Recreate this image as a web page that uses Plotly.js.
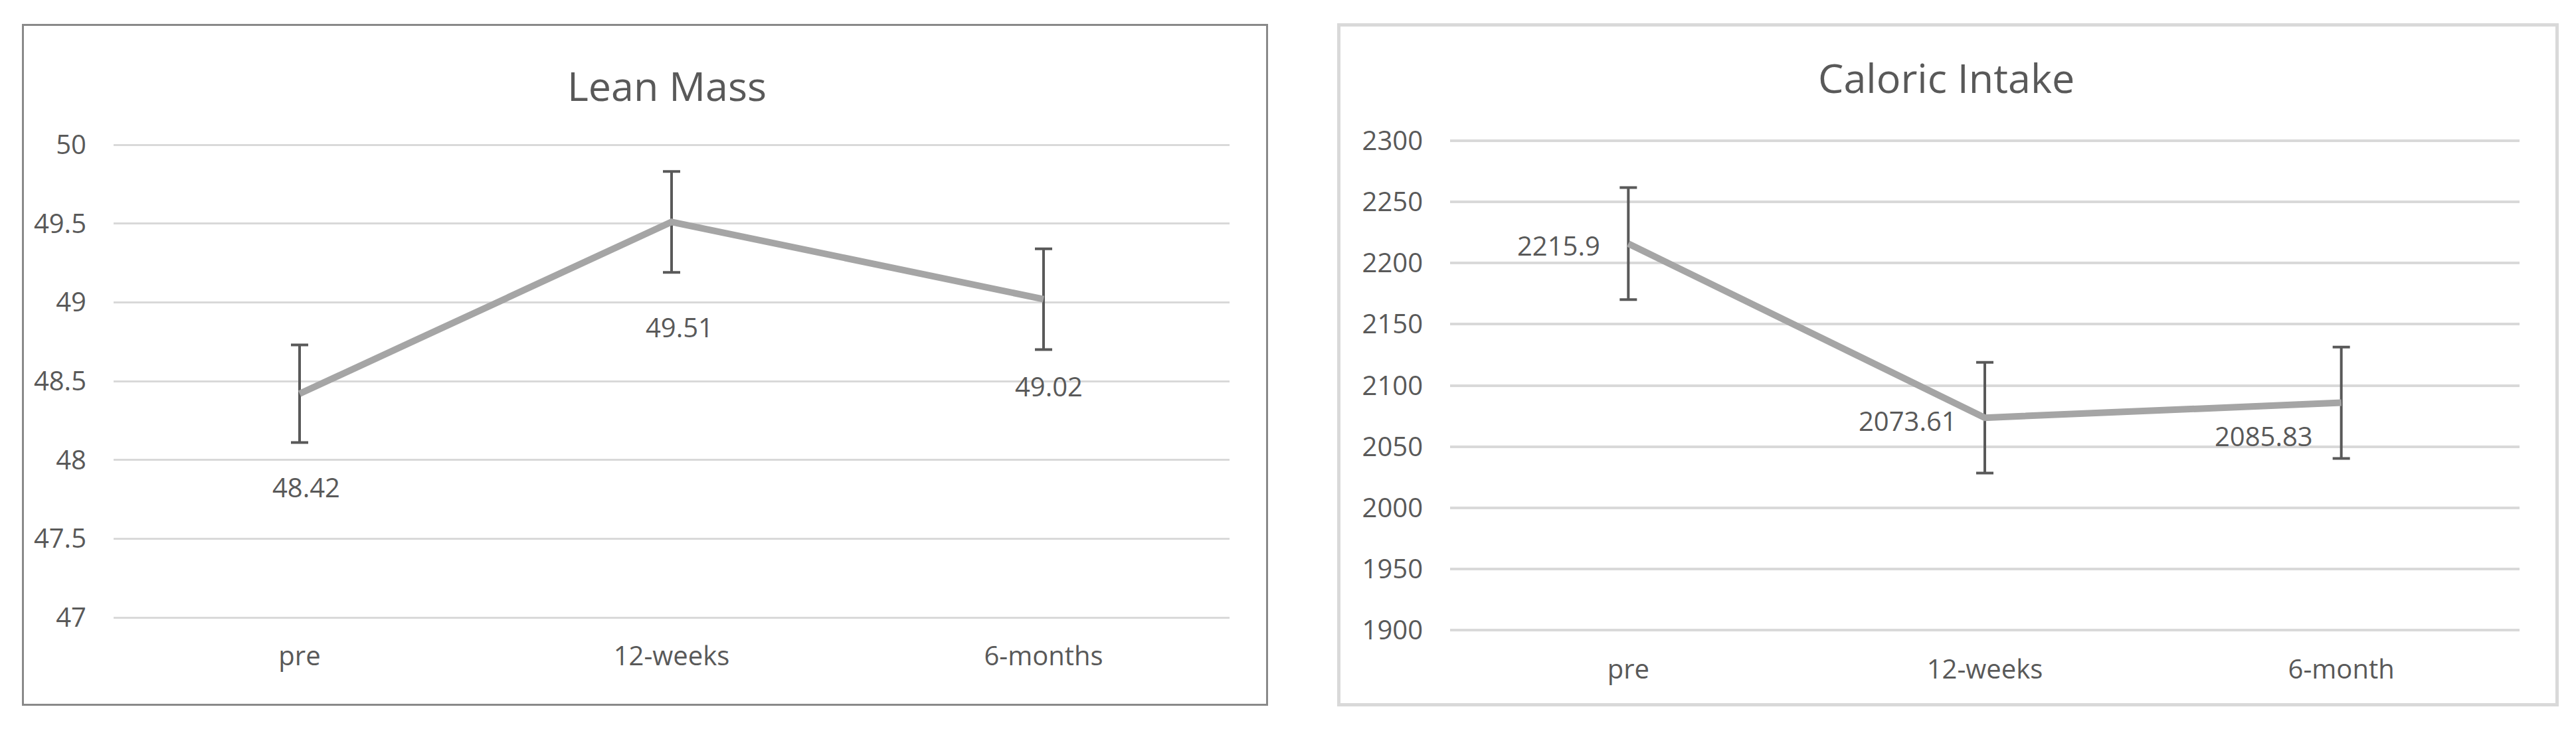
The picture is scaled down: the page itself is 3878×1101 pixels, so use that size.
<!DOCTYPE html>
<html>
<head>
<meta charset="utf-8">
<script src="https://cdn.plot.ly/plotly-3.0.1.min.js"></script>
<style>
  html, body { margin: 0; padding: 0; background: #fff; }
  #chart { width: 3878px; height: 1101px; }
</style>
</head>
<body>
<div id="chart"></div>
<script>
// Lean mass chart data
var leanCategories = ["pre", "12-weeks", "6-months"];
var leanMass = [48.42, 49.51, 49.02];
var leanError = [0.31, 0.32, 0.32];

// Caloric intake chart data
var calCategories = ["pre", "12-weeks", "6-month"];
var caloricIntake = [2215.9, 2073.61, 2085.83];
var caloricError = [45.8, 45.3, 45.5];

var W = 3878, H = 1101;
var textColor = "#595959";
var fontFamily = "'Open Sans', sans-serif";

// helpers to turn pixel positions into paper fractions
function px(x) { return x / W; }
function py(y) { return (H - y) / H; }

var leanTrace = {
  x: leanCategories,
  y: leanMass,
  type: "scatter",
  mode: "lines",
  line: { color: "#a5a5a5", width: 10 },
  error_y: { type: "data", array: leanError, visible: true, color: "#595959", thickness: 4, width: 13 },
  xaxis: "x",
  yaxis: "y",
  hoverinfo: "skip"
};

var calTrace = {
  x: calCategories,
  y: caloricIntake,
  type: "scatter",
  mode: "lines",
  line: { color: "#a5a5a5", width: 10 },
  error_y: { type: "data", array: caloricError, visible: true, color: "#595959", thickness: 4, width: 13 },
  xaxis: "x2",
  yaxis: "y2",
  hoverinfo: "skip"
};

var tickFont = { family: fontFamily, size: 40, color: textColor };
var titleFont = { family: fontFamily, size: 61, color: textColor };

// data label offsets (pixels)
var leanLabelShift = [[10, -141], [12, -158], [8, -131]];
var calLabelShift = [[-40, -3], [-40, -4], [-41, -50]];

var annotations = [];
leanMass.forEach(function(v, i) {
  annotations.push({
    x: leanCategories[i], y: v, xref: "x", yref: "y",
    text: String(v), showarrow: false,
    xanchor: "center", yanchor: "middle",
    xshift: leanLabelShift[i][0], yshift: leanLabelShift[i][1],
    font: tickFont
  });
});
caloricIntake.forEach(function(v, i) {
  annotations.push({
    x: calCategories[i], y: v, xref: "x2", yref: "y2",
    text: String(v), showarrow: false,
    xanchor: "right", yanchor: "middle",
    xshift: calLabelShift[i][0], yshift: calLabelShift[i][1],
    font: tickFont
  });
});

// chart titles
annotations.push({
  text: "Lean Mass", xref: "paper", yref: "paper",
  x: px(1004), y: py(129), xanchor: "center", yanchor: "middle",
  showarrow: false, font: titleFont
});
annotations.push({
  text: "Caloric Intake", xref: "paper", yref: "paper",
  x: px(2930), y: py(116), xanchor: "center", yanchor: "middle",
  showarrow: false, font: titleFont
});

// ranges are padded a little so the end grid lines are drawn;
// domains are padded by the same number of pixels
var leanPad = 0.02, leanPxPerUnit = (930 - 218) / 3;
var calPad = 3, calPxPerUnit = (949 - 212) / 400;

var layout = {
  width: W,
  height: H,
  margin: { l: 0, r: 0, t: 0, b: 0 },
  paper_bgcolor: "#fff",
  plot_bgcolor: "rgba(0,0,0,0)",
  showlegend: false,
  xaxis: {
    domain: [px(171), px(1851)],
    type: "category",
    range: [-0.5, 2.5],
    showgrid: false, zeroline: false, showline: false,
    ticks: "", ticklabelstandoff: 26,
    tickfont: tickFont,
    anchor: "y"
  },
  yaxis: {
    domain: [py(930 + leanPad * leanPxPerUnit), py(218 - leanPad * leanPxPerUnit)],
    range: [47 - leanPad, 50 + leanPad],
    tick0: 47,
    dtick: 0.5,
    showgrid: true, gridcolor: "#d9d9d9", gridwidth: 3,
    zeroline: false, showline: false,
    ticks: "", ticklabelstandoff: 40,
    tickfont: tickFont,
    anchor: "x"
  },
  xaxis2: {
    domain: [px(2183), px(3793)],
    type: "category",
    range: [-0.5, 2.5],
    showgrid: false, zeroline: false, showline: false,
    ticks: "", ticklabelstandoff: 26,
    tickfont: tickFont,
    anchor: "y2"
  },
  yaxis2: {
    domain: [py(949 + calPad * calPxPerUnit), py(212 - calPad * calPxPerUnit)],
    range: [1900 - calPad, 2300 + calPad],
    tick0: 1900,
    dtick: 50,
    showgrid: true, gridcolor: "#d9d9d9", gridwidth: 4,
    zeroline: false, showline: false,
    ticks: "", ticklabelstandoff: 40,
    tickfont: tickFont,
    anchor: "x2"
  },
  annotations: annotations,
  shapes: [
    {
      type: "rect", xref: "paper", yref: "paper", layer: "below",
      x0: px(34.5), x1: px(1907.5), y0: py(1061.5), y1: py(37.5),
      line: { color: "#898989", width: 3 }, fillcolor: "rgba(0,0,0,0)"
    },
    {
      type: "rect", xref: "paper", yref: "paper", layer: "below",
      x0: px(2015.5), x1: px(3849.5), y0: py(1061.5), y1: py(37.5),
      line: { color: "#d9d9d9", width: 5 }, fillcolor: "rgba(0,0,0,0)"
    }
  ]
};

Plotly.newPlot("chart", [leanTrace, calTrace], layout, { staticPlot: true });
</script>
</body>
</html>
